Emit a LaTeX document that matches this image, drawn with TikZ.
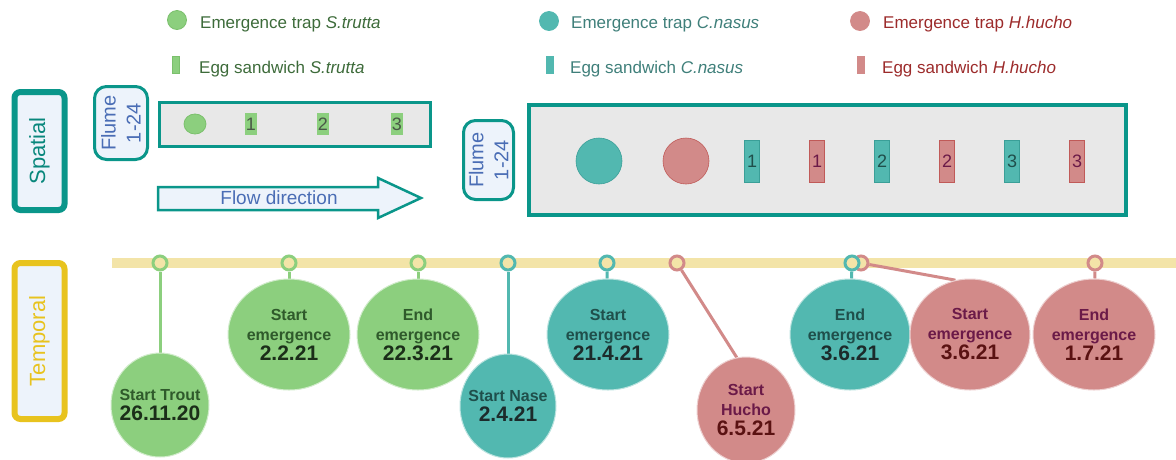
\documentclass[tikz,border=0pt]{standalone}
\usepackage{fontspec}
\setmainfont{Liberation Sans}
\usetikzlibrary{shapes.geometric,backgrounds}
\definecolor{teal1}{HTML}{0A968A}
\definecolor{flbg}{HTML}{EDF3FB}
\definecolor{gray1}{HTML}{E8E8E8}
\definecolor{grn}{HTML}{8CCF7E}
\definecolor{grnB}{HTML}{7BC06C}
\definecolor{grnD}{HTML}{3D6B3A}
\definecolor{grnT}{HTML}{2F5A2B}
\definecolor{grnDt}{HTML}{1B2E19}
\definecolor{tl}{HTML}{52B8B0}
\definecolor{tlB}{HTML}{3A9F98}
\definecolor{tlD}{HTML}{3F7F7A}
\definecolor{tlT}{HTML}{1F4F4B}
\definecolor{tlDt}{HTML}{1C2B2B}
\definecolor{pk}{HTML}{D28A89}
\definecolor{pkB}{HTML}{C05A58}
\definecolor{pkD}{HTML}{9C2B2B}
\definecolor{pkT}{HTML}{6B1A48}
\definecolor{pkDt}{HTML}{5A1212}
\definecolor{band}{HTML}{F3E4A8}
\definecolor{yel}{HTML}{E8C31E}
\definecolor{blu}{HTML}{4A6DB5}
\newcommand\mydate[2]{{\fontsize{21}{22}\selectfont\color{#1}#2}}
\tikzset{
  legtxt/.style={anchor=base west, inner sep=0, font=\fontsize{17}{20}\selectfont},
  legdot/.style={circle, line width=0.8pt, minimum size=19, inner sep=0},
  legbar/.style={rectangle, line width=0.8pt, minimum width=7, minimum height=17, inner sep=0},
  sidebox/.style={rectangle, rounded corners=6pt, line width=6pt, fill=flbg, rotate=90, minimum height=50, font=\fontsize{22}{24}\selectfont},
  flumelab/.style={rectangle, rounded corners=12pt, line width=3pt, draw=teal1, fill=flbg, rotate=90, align=center, text=blu, font=\fontsize{20}{25}\selectfont, inner sep=0},
  flume/.style={rectangle, draw=teal1, fill=gray1, inner sep=0},
  sandw/.style={rectangle, inner sep=0, line width=0.8pt, font=\fontsize{18}{20}\selectfont},
  marker/.style={circle, line width=3pt, fill=band, minimum size=14, inner sep=0},
  ev/.style={ellipse, inner sep=0, align=center, line width=1pt, font=\bfseries\fontsize{16}{20}\selectfont},
  gE/.style={ev, fill=grn, draw=white!60!grn, text=grnT},
  tE/.style={ev, fill=tl, draw=white!60!tl, text=tlT},
  pE/.style={ev, fill=pk, draw=white!60!pk, text=pkT},
  stem/.style={line width=3pt}
}
\begin{document}
\begin{tikzpicture}[x=1pt,y=-1pt]
\useasboundingbox (0,0) rectangle (1176,459);
% legend
\node[legdot, fill=grn, draw=grnB] (lg1) at (177,20) {};
\node[legtxt, text=grnD] (lt1) at (200,28) {Emergence trap \textit{S.trutta}};
\node[legbar, fill=grn, draw=grnB] (lb1) at (175.5,65) {};
\node[legtxt, text=grnD] (lt2) at (199,73) {Egg sandwich \textit{S.trutta}};
\node[legdot, fill=tl, draw=tl] (lg2) at (549,21) {};
\node[legtxt, text=tlD] (lt3) at (571,28) {Emergence trap \textit{C.nasus}};
\node[legbar, fill=tl, draw=tl] (lb2) at (549.5,65) {};
\node[legtxt, text=tlD] (lt4) at (570,73) {Egg sandwich \textit{C.nasus}};
\node[legdot, fill=pk, draw=pk] (lg3) at (860,21) {};
\node[legtxt, text=pkD] (lt5) at (883,28) {Emergence trap \textit{H.hucho}};
\node[legbar, fill=pk, draw=pk] (lb3) at (860.5,65) {};
\node[legtxt, text=pkD] (lt6) at (882,73) {Egg sandwich \textit{H.hucho}};
% side boxes
\node[sidebox, draw=teal1, text=teal1!90!black, minimum width=118] (sp) at (39.5,151) {Spatial};
\node[sidebox, draw=yel, text=yel, minimum width=156] (tp) at (39.5,341) {Temporal};
% left flume
\node[flumelab, minimum width=73, minimum height=53] (fl1) at (121,123) {Flume\\1-24};
\node[flume, line width=3pt, minimum width=271, minimum height=44] (f1) at (295,124.5) {};
\node[ellipse, fill=grn, draw=grnB, line width=0.8pt, minimum width=22, minimum height=20, inner sep=0] (f1e) at (195,124) {};
\node[sandw, fill=grn, draw=grn, text=grnDt!80, minimum width=11, minimum height=21] (f1s1) at (251,124) {1};
\node[sandw, fill=grn, draw=grn, text=grnDt!80, minimum width=11, minimum height=21] (f1s2) at (323,124) {2};
\node[sandw, fill=grn, draw=grn, text=grnDt!80, minimum width=11, minimum height=21] (f1s3) at (397,124) {3};
% flow arrow
\draw[line width=2.5pt, draw=teal1, fill=flbg, line join=miter] (158,187) -- (378,187) -- (378,178) -- (421,198) -- (378,218) -- (378,210) -- (158,210) -- cycle;
\node[text=blu, font=\fontsize{19}{22}\selectfont] (flow) at (279,198) {Flow direction};
% right flume
\node[flumelab, minimum width=79, minimum height=50] (fl2) at (488.5,160) {Flume\\1-24};
\node[flume, line width=4pt, minimum width=597, minimum height=110] (f2) at (827.5,160) {};
\node[circle, fill=tl, draw=tlB, line width=0.6pt, minimum size=46, inner sep=0] (f2c1) at (599,161) {};
\node[circle, fill=pk, draw=pkB, line width=0.6pt, minimum size=46, inner sep=0] (f2c2) at (686,161) {};
\node[sandw, fill=tl, draw=tlB, text=tlT, minimum width=15, minimum height=42] (f2t1) at (752,161) {1};
\node[sandw, fill=pk, draw=pkB, text=pkT, minimum width=15, minimum height=42] (f2p1) at (817,161) {1};
\node[sandw, fill=tl, draw=tlB, text=tlT, minimum width=15, minimum height=42] (f2t2) at (882,161) {2};
\node[sandw, fill=pk, draw=pkB, text=pkT, minimum width=15, minimum height=42] (f2p2) at (947,161) {2};
\node[sandw, fill=tl, draw=tlB, text=tlT, minimum width=15, minimum height=42] (f2t3) at (1012,161) {3};
\node[sandw, fill=pk, draw=pkB, text=pkT, minimum width=15, minimum height=42] (f2p3) at (1077,161) {3};
% timeline markers
\node[marker, draw=grn] (m1) at (160,263) {};
\node[marker, draw=grn] (m2) at (289,263) {};
\node[marker, draw=grn] (m3) at (418,263) {};
\node[marker, draw=tl] (m4) at (508,263) {};
\node[marker, draw=tl] (m5) at (607,263) {};
\node[marker, draw=pk] (m6) at (677,263) {};
\node[marker, draw=pk] (m8) at (861,263) {};
\node[marker, draw=tl] (m7) at (852,263) {};
\node[marker, draw=pk] (m9) at (1095,263) {};
% event ellipses
\node[gE, inner xsep=-9pt, minimum width=98, minimum height=104] (e1) at (160,405) {Start Trout\\\mydate{grnDt}{26.11.20}};
\node[gE, minimum width=122, minimum height=111] (e2) at (289,334.5) {Start\\emergence\\\mydate{grnDt}{2.2.21}};
\node[gE, minimum width=122, minimum height=111] (e3) at (418,334.5) {End\\emergence\\\mydate{grnDt}{22.3.21}};
\node[tE, inner xsep=-9pt, minimum width=96, minimum height=104] (e4) at (508,406) {Start Nase\\\mydate{tlDt}{2.4.21}};
\node[tE, minimum width=122, minimum height=111] (e5) at (608,334.5) {Start\\emergence\\\mydate{tlDt}{21.4.21}};
\node[pE, minimum width=98, minimum height=106] (e6) at (746,410) {Start\\Hucho\\\mydate{pkDt}{6.5.21}};
\node[tE, minimum width=120, minimum height=111] (e7) at (850,334.5) {End\\emergence\\\mydate{tlDt}{3.6.21}};
\node[pE, minimum width=120, minimum height=111] (e8) at (970,334.5) {Start\\emergence\\\mydate{pkDt}{3.6.21}};
\node[pE, minimum width=122, minimum height=111] (e9) at (1094,334.5) {End\\emergence\\\mydate{pkDt}{1.7.21}};
\begin{scope}[on background layer]
\fill[band] (112,258) rectangle (1176,268);
\draw[stem, grn] (m1) -- (e1);
\draw[stem, grn] (m2) -- (e2);
\draw[stem, grn] (m3) -- (e3);
\draw[stem, tl] (m4) -- (e4);
\draw[stem, tl] (m5) -- (e5);
\draw[stem, pk] (m6) -- (e6.100);
\draw[stem, tl] (m7) -- (e7);
\draw[stem, pk] (m8) -- (e8.105);
\draw[stem, pk] (m9) -- (e9);
\end{scope}
\end{tikzpicture}
\end{document}
